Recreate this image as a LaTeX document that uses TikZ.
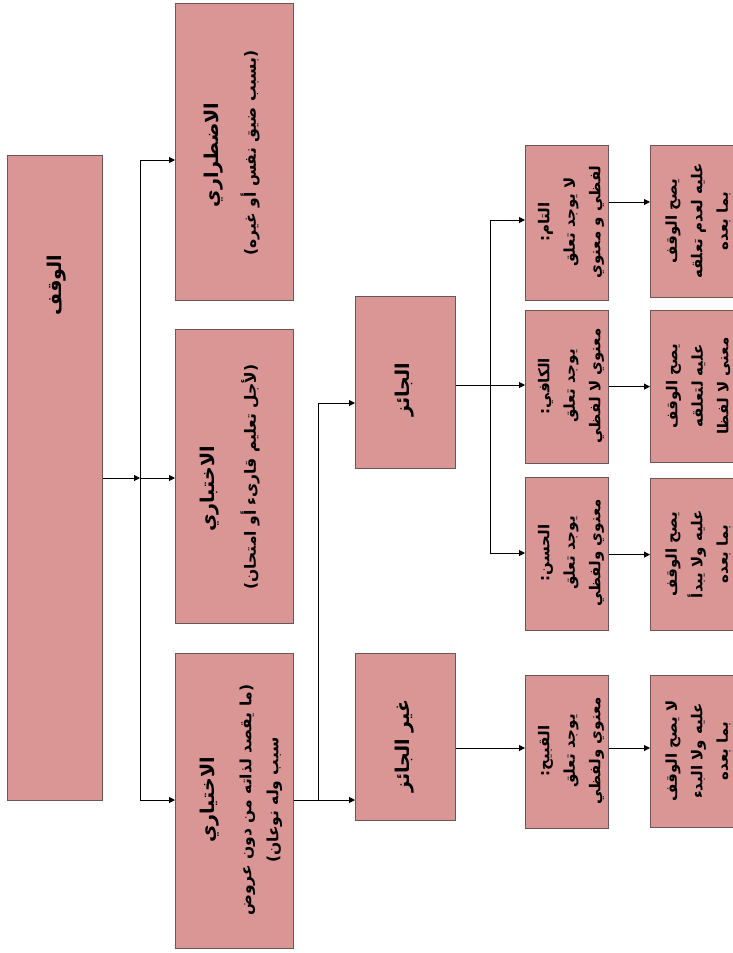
\documentclass[tikz,border=0pt]{standalone}
\usepackage{fontspec}
\usetikzlibrary{arrows.meta}
\TeXXeTstate=1
\newfontfamily\arabicfont[Script=Arabic]{DejaVu Sans}
\newcommand{\AR}[1]{\beginR #1\endR}
\definecolor{boxfill}{HTML}{D99694}
\definecolor{boxline}{HTML}{6A5656}
\tikzset{
  box/.style={draw=boxline, fill=boxfill, line width=1.2pt, anchor=north west, inner sep=0pt},
  txt/.style={rotate=90, align=center, inner sep=0pt, font=\arabicfont\bfseries},
  big/.style={txt, font=\arabicfont\bfseries\fontsize{19}{34}\selectfont},
  sub/.style={txt, font=\arabicfont\bfseries\fontsize{15.5}{27}\selectfont},
  small/.style={txt, font=\arabicfont\bfseries\fontsize{15}{25.5}\selectfont},
  ln/.style={line width=1pt, black},
  arr/.style={line width=1pt, black, -{Triangle[length=6pt,width=6pt]}}
}
\begin{document}
\begin{tikzpicture}[x=1pt,y=-1pt]
\useasboundingbox (0,0) rectangle (732,953);
% boxes
\node[box, minimum width=95pt, minimum height=645pt] (root) at (7,155) {};
\node[box, minimum width=118pt, minimum height=297pt] (c1) at (175,3) {};
\node[box, minimum width=118pt, minimum height=294pt] (c2) at (175,329) {};
\node[box, minimum width=118pt, minimum height=295pt] (c3) at (175,653) {};
\node[box, minimum width=100pt, minimum height=172pt] (jaiz) at (355,296) {};
\node[box, minimum width=100pt, minimum height=167pt] (ghayr) at (355,653) {};
\node[box, minimum width=83pt, minimum height=155pt] (tam) at (525,145) {};
\node[box, minimum width=83pt, minimum height=153pt] (kafi) at (525,310) {};
\node[box, minimum width=83pt, minimum height=153pt] (hasan) at (525,477) {};
\node[box, minimum width=83pt, minimum height=153pt] (qabih) at (525,675) {};
\node[box, minimum width=90pt, minimum height=152pt] (r1) at (650,145) {};
\node[box, minimum width=90pt, minimum height=152pt] (r2) at (650,310) {};
\node[box, minimum width=90pt, minimum height=152pt] (r3) at (650,478) {};
\node[box, minimum width=90pt, minimum height=152pt] (r4) at (650,675) {};
% texts
\node[big] (troot) at (57,285) {\AR{الوقف}};
\node[big] (tc1a) at (214,155) {\AR{الاضطراري}};
\node[sub] (tc1b) at (250,153) {\AR{(بسبب ضيق نفس أو غيره)}};
\node[big] (tc2a) at (210,489) {\AR{الاختباري}};
\node[sub] (tc2b) at (250,477) {\AR{(لأجل تعليم قارىء أو امتحان)}};
\node[big] (tc3a) at (210,800) {\AR{الاختياري}};
\node[sub] (tc3b) at (261,800) {\AR{(ما يقصد لذاته من دون عروض}\\\AR{سبب وله نوعان)}};
\node[big] (tjaiz) at (405,390) {\AR{الجائز}};
\node[big] (tghayr) at (405,746) {\AR{غير الجائز}};
\node[small] (ttam) at (571,222) {\AR{التام:}\\\AR{لا يوجد تعلق}\\\AR{لفظي و معنوي}};
\node[small] (tkafi) at (571,386) {\AR{الكافي:}\\\AR{يوجد تعلق}\\\AR{معنوي لا لفظي}};
\node[small] (thasan) at (571,553) {\AR{الحسن:}\\\AR{يوجد تعلق}\\\AR{معنوي ولفظي}};
\node[small] (tqabih) at (571,751) {\AR{القبيح:}\\\AR{يوجد تعلق}\\\AR{معنوي ولفظي}};
\node[small] (tr1) at (698,221) {\AR{يصح الوقف}\\\AR{عليه لعدم تعلقه}\\\AR{بما بعده}};
\node[small] (tr2) at (698,386) {\AR{يصح الوقف}\\\AR{عليه لتعلقه}\\\AR{معنى لا لفظا}};
\node[small] (tr3) at (698,554) {\AR{يصح الوقف}\\\AR{عليه ولا يبدأ}\\\AR{بما بعده}};
\node[small] (tr4) at (698,751) {\AR{لا يصح الوقف}\\\AR{عليه ولا البدء}\\\AR{بما بعده}};
% level 1 connectors
\coordinate (b1) at (140,478);
\coordinate (b1t) at (140,160);
\coordinate (b1b) at (140,800);
\draw[arr] (root.east |- b1) -- (b1);
\draw[arr] (b1) -- (c2.west |- b1);
\draw[ln] (b1t) -- (b1b);
\draw[arr] (b1t) -- (c1.west |- b1t);
\draw[arr] (b1b) -- (c3.west |- b1b);
% level 2 connectors
\coordinate (b2) at (318,800);
\coordinate (b2t) at (318,403);
\draw[ln] (c3.east |- b2) -- (b2) -- (b2t);
\draw[arr] (b2t) -- (jaiz.west |- b2t);
\draw[arr] (b2) -- (ghayr.west |- b2);
% level 3 connectors
\coordinate (b3) at (490,385);
\coordinate (b3t) at (490,220);
\coordinate (b3b) at (490,553);
\draw[arr] (jaiz.east |- b3) -- (kafi.west |- b3);
\draw[ln] (b3t) -- (b3b);
\draw[arr] (b3t) -- (tam.west |- b3t);
\draw[arr] (b3b) -- (hasan.west |- b3b);
\coordinate (bq) at (490,748);
\draw[arr] (ghayr.east |- bq) -- (qabih.west |- bq);
% level 4 connectors
\coordinate (ta) at (620,202);
\draw[arr] (tam.east |- ta) -- (r1.west |- ta);
\draw[arr] (kafi.east |- r2.west) -- (r2.west);
\draw[arr] (hasan.east |- r3.west) -- (r3.west);
\draw[arr] (qabih.east |- bq) -- (r4.west |- bq);
\end{tikzpicture}
\end{document}
